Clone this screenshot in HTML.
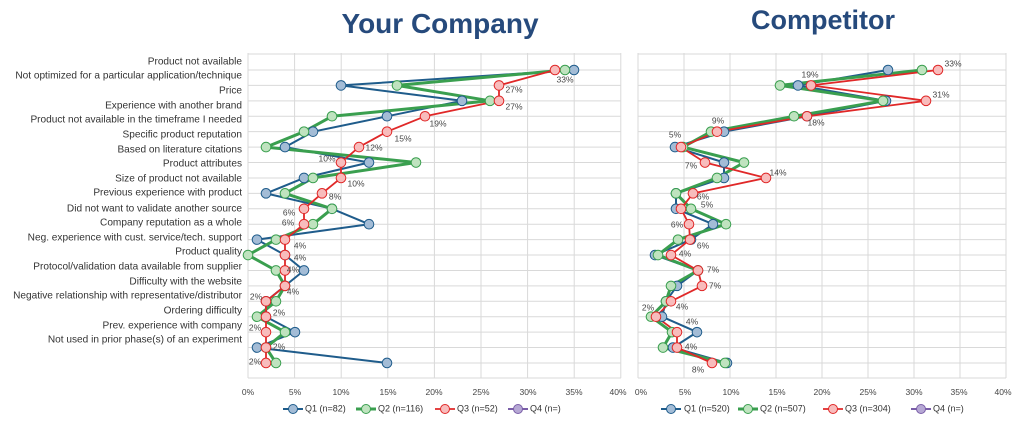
<!DOCTYPE html>
<html><head><meta charset="utf-8"><style>
body{margin:0;background:#fff;}
svg{display:block;font-family:"Liberation Sans",sans-serif;}
.lab{font-size:10.1px;fill:#333;text-anchor:end;dominant-baseline:middle;}
.pl{font-size:8.5px;fill:#444;text-anchor:middle;dominant-baseline:middle;}
.ax{font-size:8.5px;fill:#444;text-anchor:middle;}
.lg{font-size:9px;fill:#333;dominant-baseline:middle;}
</style></head><body>
<svg id="s" width="1030" height="435" viewBox="0 0 1030 435" xmlns="http://www.w3.org/2000/svg">
<text x="440" y="33" text-anchor="middle" font-size="28" font-weight="bold" fill="#264a7c">Your Company</text>
<text x="823" y="29" text-anchor="middle" font-size="27" font-weight="bold" fill="#264a7c">Competitor</text>
<g id="grid" stroke="#d9d9d9" stroke-width="1"></g>
<g class="lab">
<text x="242" y="62">Product not available</text>
<text x="242" y="76">Not optimized for a particular application/technique</text>
<text x="242" y="91">Price</text>
<text x="242" y="106">Experience with another brand</text>
<text x="242" y="120">Product not available in the timeframe I needed</text>
<text x="242" y="135">Specific product reputation</text>
<text x="242" y="150">Based on literature citations</text>
<text x="242" y="164">Product attributes</text>
<text x="242" y="179">Size of product not available</text>
<text x="242" y="193">Previous experience with product</text>
<text x="242" y="209">Did not want to validate another source</text>
<text x="242" y="223">Company reputation as a whole</text>
<text x="242" y="238">Neg. experience with cust. service/tech. support</text>
<text x="242" y="252">Product quality</text>
<text x="242" y="267">Protocol/validation data available from supplier</text>
<text x="242" y="282">Difficulty with the website</text>
<text x="242" y="296">Negative relationship with representative/distributor</text>
<text x="242" y="311">Ordering difficulty</text>
<text x="242" y="326">Prev. experience with company</text>
<text x="242" y="340">Not used in prior phase(s) of an experiment</text>
</g>
<g id="series"></g>
<g class="pl">
<text x="565" y="80">33%</text><text x="514" y="90">27%</text><text x="514" y="107">27%</text>
<text x="438" y="124">19%</text><text x="403" y="139">15%</text><text x="374" y="148">12%</text>
<text x="327" y="159">10%</text><text x="356" y="184">10%</text><text x="335" y="197">8%</text>
<text x="289" y="213">6%</text><text x="288" y="223">6%</text><text x="300" y="246">4%</text>
<text x="300" y="258">4%</text><text x="293" y="270">4%</text><text x="293" y="292">4%</text>
<text x="256" y="297">2%</text><text x="279" y="313">2%</text><text x="255" y="328">2%</text>
<text x="279" y="347">2%</text><text x="255" y="362">2%</text>
<text x="953" y="64">33%</text><text x="810" y="75">19%</text><text x="941" y="95">31%</text>
<text x="816" y="123">18%</text><text x="718" y="121">9%</text><text x="675" y="135">5%</text>
<text x="691" y="166">7%</text><text x="778" y="173">14%</text><text x="703" y="197">6%</text>
<text x="707" y="205">5%</text><text x="677" y="225">6%</text><text x="703" y="246">6%</text>
<text x="685" y="254">4%</text><text x="713" y="270">7%</text><text x="715" y="286">7%</text>
<text x="682" y="307">4%</text><text x="648" y="308">2%</text><text x="692" y="322">4%</text>
<text x="691" y="347">4%</text><text x="698" y="370">8%</text>
</g>
<g class="ax">
<text x="248" y="395">0%</text><text x="295" y="395">5%</text><text x="341" y="395">10%</text><text x="388" y="395">15%</text><text x="434" y="395">20%</text><text x="481" y="395">25%</text><text x="528" y="395">30%</text><text x="574" y="395">35%</text><text x="618" y="395">40%</text>
<text x="641" y="395">0%</text><text x="685" y="395">5%</text><text x="731" y="395">10%</text><text x="777" y="395">15%</text><text x="822" y="395">20%</text><text x="868" y="395">25%</text><text x="914" y="395">30%</text><text x="959" y="395">35%</text><text x="1003" y="395">40%</text>
</g>
<g id="legend"></g>
<g class="lg">
<text x="305" y="409">Q1 (n=82)</text><text x="378" y="409">Q2 (n=116)</text><text x="457" y="409">Q3 (n=52)</text><text x="530" y="409">Q4 (n=)</text>
<text x="684" y="409">Q1 (n=520)</text><text x="760" y="409">Q2 (n=507)</text><text x="845" y="409">Q3 (n=304)</text><text x="933" y="409">Q4 (n=)</text>
</g>
</svg>
<script>
var NS="http://www.w3.org/2000/svg";
function el(p,t,a){var e=document.createElementNS(NS,t);for(var k in a)e.setAttribute(k,a[k]);document.getElementById(p).appendChild(e);return e;}
var Y=[];for(var i=0;i<20;i++)Y.push(70+15.42*i);
function grid(x0,x1,step){
 for(var x=x0;x<=x1+1;x+=step)el("grid","line",{x1:x,y1:53,x2:x,y2:378});
 el("grid","line",{x1:x0,y1:54,x2:x1,y2:54});
 for(var i=0;i<20;i++)el("grid","line",{x1:x0,y1:Y[i],x2:x1,y2:Y[i]});
 el("grid","line",{x1:x0,y1:378,x2:x1,y2:378});
}
grid(248,621,46.6);grid(638,1006,46);
var L={B:[574,341,462,387,313,285,369,304,266,332,369,257,285,304,285,266,266,295,257,387],
G:[565,397,490,332,304,266,416,313,285,332,313,276,248,276,285,276,257,285,266,276],
R:[555,499,499,425,387,359,341,341,322,304,304,285,285,285,285,266,266,266,266,266]};
var Rt={B:[888,798,886,807,724,675,724,724,676,676,713,691,655,698,677,666,662,697,673,727],
G:[922,780,883,794,711,683,744,717,676,691,726,678,658,698,671,666,651,672,663,725],
R:[938,811,926,807,717,681,705,766,693,681,689,690,671,698,702,671,656,677,677,712]};
var st={B:{c:"#1f5c8b",f:"#a3bcd6",w:2},G:{c:"#3a9f4f",f:"#bfe3bf",w:3},R:{c:"#e02828",f:"#f8bcbc",w:1.8}};
["B","G","R"].forEach(function(k){[L,Rt].forEach(function(D){
 var pts=D[k].map(function(x,i){return x+","+Y[i].toFixed(1);}).join(" ");
 el("series","polyline",{points:pts,fill:"none",stroke:st[k].c,"stroke-width":st[k].w,"stroke-linejoin":"round"});
});});
["B","G","R"].forEach(function(k){[L,Rt].forEach(function(D){
 D[k].forEach(function(x,i){el("series","circle",{cx:x,cy:Y[i],r:4.8,fill:st[k].f,stroke:st[k].c,"stroke-width":1});});
});});
var lg=[[283,"B"],[356,"G"],[435,"R"],[508,"P"],[661,"B"],[738,"G"],[823,"R"],[911,"P"]];
st.P={c:"#7a5ea8",f:"#b6a8d4",w:2};
lg.forEach(function(a){var s=st[a[1]];
 el("legend","line",{x1:a[0],y1:409,x2:a[0]+20,y2:409,stroke:s.c,"stroke-width":s.w});
 el("legend","circle",{cx:a[0]+10,cy:409,r:4.5,fill:s.f,stroke:s.c,"stroke-width":1});
});
</script>
</body></html>
